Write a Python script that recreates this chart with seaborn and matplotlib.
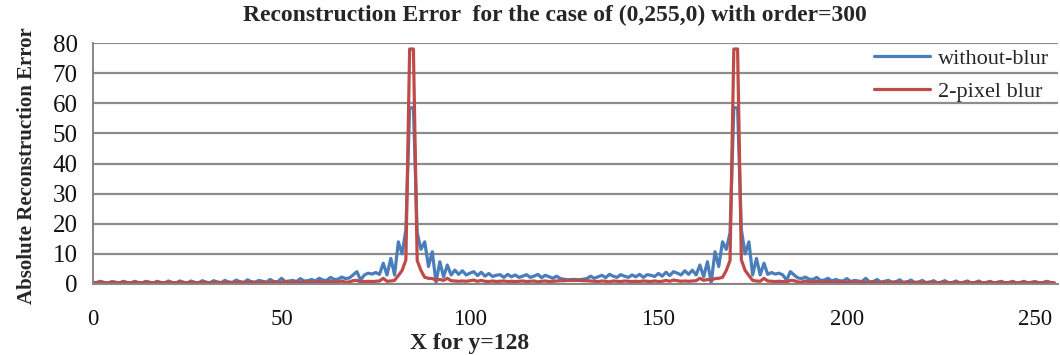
import matplotlib
matplotlib.use("Agg")
import matplotlib.pyplot as plt
import seaborn as sns
import pandas as pd
import numpy as np

# x positions (pixel index along the row y=128)
x_vals = list(range(256))

without_blur = [
    0.3,0.5,0.9,0.5,0.3,0.8,0.6,0.3,0.9,0.5,0.3,0.9,0.5,0.3,0.9,0.6,
    0.3,0.9,0.5,0.3,1.0,0.5,0.3,1.0,0.6,0.3,1.0,0.5,0.4,1.1,0.6,0.4,
    1.1,0.6,0.4,1.2,0.6,0.5,1.3,0.7,0.5,1.4,0.7,0.6,1.2,0.9,0.6,1.5,
    0.8,0.7,1.9,0.8,1.0,1.2,0.8,1.8,1.0,1.1,1.5,1.0,1.9,1.3,1.2,2.2,
    1.5,1.6,2.3,1.8,2.0,3.0,4.1,1.3,3.0,3.6,3.3,3.8,3.2,6.9,3.0,8.5,
    3.0,14.0,10.0,18.0,58.5,58.5,17.0,11.5,14.0,5.8,10.7,0.5,7.4,2.4,6.3,3.0,
    4.6,3.2,4.4,3.0,3.6,4.1,2.8,3.9,2.6,3.5,2.5,2.9,3.1,2.2,3.2,2.4,
    3.0,2.2,2.6,3.1,2.2,2.6,3.2,2.1,2.9,2.4,1.9,2.6,1.8,1.6,1.4,1.5,
    1.5,1.4,1.6,1.8,2.6,1.9,2.4,2.9,2.1,3.2,2.6,2.2,3.1,2.6,2.2,3.0,
    2.4,3.2,2.2,3.1,2.9,2.5,3.5,2.6,3.9,2.8,4.1,3.6,3.0,4.4,3.2,4.6,
    3.0,6.3,2.4,7.4,0.5,10.7,5.8,14.0,11.5,17.0,58.5,58.5,18.0,10.0,14.0,3.0,
    8.5,3.0,6.9,3.2,3.8,3.3,3.6,3.0,1.3,4.1,3.0,2.0,1.8,2.3,1.6,1.5,
    2.2,1.2,1.3,1.9,1.0,1.5,1.1,1.0,1.8,0.8,1.2,1.0,0.8,1.9,0.7,0.8,
    1.5,0.6,0.9,1.2,0.6,0.7,1.4,0.5,0.7,1.3,0.5,0.6,1.2,0.4,0.6,1.1,
    0.4,0.6,1.1,0.4,0.5,1.0,0.3,0.6,1.0,0.3,0.5,1.0,0.3,0.5,0.9,0.3,
    0.6,0.9,0.3,0.5,0.9,0.3,0.5,0.9,0.3,0.6,0.8,0.3,0.5,0.9,0.5,0.3,
]

two_pixel_blur = [
    0.4,0.5,0.6,0.4,0.4,0.6,0.5,0.4,0.6,0.5,0.4,0.6,0.5,0.4,0.6,0.5,
    0.4,0.6,0.5,0.4,0.6,0.5,0.4,0.6,0.5,0.4,0.6,0.5,0.4,0.6,0.5,0.4,
    0.4,0.6,0.5,0.4,0.6,0.5,0.4,0.7,0.5,0.4,0.7,0.5,0.4,0.7,0.5,0.4,
    0.7,0.5,0.5,0.8,0.5,0.5,0.8,0.5,0.6,0.8,0.5,0.6,0.9,0.5,0.6,0.9,
    0.6,0.7,1.0,0.6,0.7,1.1,1.2,0.7,0.8,0.9,0.8,0.9,1.0,1.9,0.9,1.0,
    1.2,2.8,4.5,8.0,78.0,78.0,7.8,4.5,2.2,1.9,1.8,1.3,1.5,1.2,1.9,1.1,
    1.0,0.9,1.0,0.9,1.1,1.3,0.9,1.2,0.9,0.8,1.0,0.8,0.9,1.0,0.8,0.9,
    0.8,0.9,1.0,0.8,0.9,1.0,0.7,0.9,1.0,0.8,0.9,1.0,1.1,1.1,1.2,1.2,
    1.2,1.2,1.1,1.1,1.0,0.9,0.8,1.0,0.9,0.7,1.0,0.9,0.8,1.0,0.9,0.8,
    0.9,0.8,1.0,0.9,0.8,1.0,0.8,0.9,1.2,0.9,1.3,1.1,0.9,1.0,0.9,1.0,
    1.1,1.9,1.2,1.5,1.3,1.8,1.9,2.2,4.5,7.8,78.0,78.0,8.0,4.5,2.8,1.2,
    1.0,0.9,1.9,1.0,0.9,0.8,0.9,0.8,0.7,1.2,1.1,0.7,0.6,1.0,0.7,0.6,
    0.9,0.6,0.5,0.9,0.6,0.5,0.8,0.6,0.5,0.8,0.5,0.5,0.8,0.5,0.5,0.7,
    0.4,0.5,0.7,0.4,0.5,0.7,0.4,0.5,0.7,0.4,0.5,0.6,0.4,0.5,0.6,0.4,
    0.4,0.5,0.6,0.4,0.5,0.6,0.4,0.5,0.6,0.4,0.5,0.6,0.4,0.5,0.6,0.4,
    0.5,0.6,0.4,0.5,0.6,0.4,0.5,0.6,0.4,0.5,0.6,0.4,0.4,0.6,0.5,0.4,
]

series_names = ["without-blur", "2-pixel blur"]
series_colors = ["#4A7EBB", "#BE4B48"]
x_ticks = [0, 50, 100, 150, 200, 250]
y_ticks = [0, 10, 20, 30, 40, 50, 60, 70, 80]

title_text = "Reconstruction Error  for the case of (0,255,0) with order=300"
xlabel_text = "X for y=128"
ylabel_text = "Absolute Reconstruction Error"

df = pd.DataFrame({
    "x": x_vals * 2,
    "value": without_blur + two_pixel_blur,
    "series": [series_names[0]] * len(x_vals) + [series_names[1]] * len(x_vals),
})

sns.set_style("white")
plt.rcParams["font.family"] = ["Liberation Serif", "DejaVu Serif"]

W, H = 1060, 355
fig = plt.figure(figsize=(W / 100, H / 100), dpi=100)
ax = fig.add_axes([93 / W, 1 - 284 / H, 965 / W, 241 / H])

sns.lineplot(data=df, x="x", y="value", hue="series", palette=series_colors,
             hue_order=series_names, linewidth=2.3, ax=ax, legend=True)

ax.set_xlim(0, 256)
ax.set_ylim(0, 80)
ax.set_xticks(x_ticks)
ax.set_yticks(y_ticks)
ax.tick_params(axis="both", colors="#111111", length=5,
               width=1.2, direction="out", color="#868686")
ax.tick_params(axis="x", labelsize=16.5, pad=13)
ax.tick_params(axis="y", labelsize=18, pad=6)
ax.yaxis.grid(True, color="#8C8C8C", linewidth=1.6)
ax.xaxis.grid(False)
for s in ["top", "right"]:
    ax.spines[s].set_visible(False)
for s in ["left", "bottom"]:
    ax.spines[s].set_color("#868686")
    ax.spines[s].set_linewidth(1.4)

ax.set_xlabel("")
ax.set_ylabel("")
fig.text(555 / W, 1 - 15 / H, title_text, fontsize=17, fontweight="bold",
         ha="center", va="center")
fig.text(470 / W, 1 - 343 / H, xlabel_text, fontsize=17, fontweight="bold",
         ha="center", va="center")
fig.text(27 / W, 1 - 166 / H, ylabel_text, fontsize=15, fontweight="bold",
         ha="center", va="center", rotation=90)

leg = ax.legend(loc="upper right", bbox_to_anchor=(1.003, 1.028), frameon=False,
                fontsize=16, handlelength=2.5, handletextpad=0.35,
                labelspacing=0.55, borderaxespad=0.15)

fig.savefig("out.png", dpi=100)
